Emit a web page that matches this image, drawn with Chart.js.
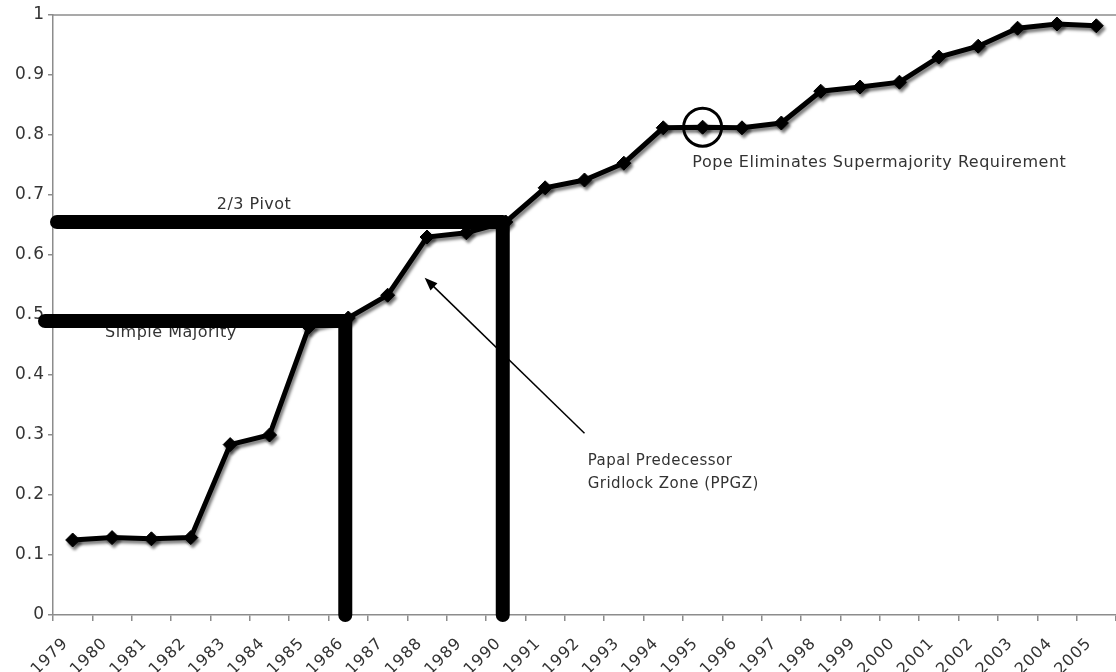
<!DOCTYPE html>
<html>
<head>
<meta charset="utf-8">
<script src="https://cdn.jsdelivr.net/npm/chart.js@4/dist/chart.umd.min.js"></script>
<style>
  html, body { margin: 0; padding: 0; background: #fff; }
  #wrap { width: 1116px; height: 672px; }
</style>
</head>
<body>
<div id="wrap"><canvas id="chart"></canvas></div>
<script>
// datos
const years = ['1979', '1980', '1981', '1982', '1983', '1984', '1985', '1986', '1987',
  '1988', '1989', '1990', '1991', '1992', '1993', '1994', '1995', '1996', '1997',
  '1998', '1999', '2000', '2001', '2002', '2003', '2004', '2005'];
const shares = [0.125, 0.129, 0.127, 0.129, 0.284, 0.300, 0.480, 0.495, 0.533,
  0.630, 0.637, 0.655, 0.712, 0.725, 0.753, 0.812, 0.813, 0.812, 0.820,
  0.873, 0.880, 0.888, 0.930, 0.948, 0.978, 0.985, 0.982];
const yTicks = [0, 0.1, 0.2, 0.3, 0.4, 0.5, 0.6, 0.7, 0.8, 0.9, 1];

const thresholdNames = ['Simple Majority', '2/3 Pivot'];
const thresholdValues = [0.49, 0.655];
const thresholdYears = ['1986', '1990'];

const eventYear = '1995';
const eventNote = 'Pope Eliminates Supermajority Requirement';
const zoneNote = ['Papal Predecessor', 'Gridlock Zone (PPGZ)'];

const FONT = 'DejaVu Sans, Verdana, sans-serif';
const TEXT = '#333';

// sombra gris bajo la serie
const shadowPlugin = {
  id: 'shadow',
  beforeDraw(chart) {
    chart.ctx.letterSpacing = '1px';
  },
  beforeDatasetDraw(chart) {
    const ctx = chart.ctx;
    ctx.save();
    ctx.shadowColor = 'rgba(0,0,0,0.5)';
    ctx.shadowOffsetX = 2;
    ctx.shadowOffsetY = 3;
    ctx.shadowBlur = 3;
  },
  afterDatasetDraw(chart) {
    chart.ctx.restore();
  }
};

// anotaciones: barras de umbral, flecha, circulo y textos
const notesPlugin = {
  id: 'notes',
  beforeDatasetsDraw(chart) {
    const { ctx, chartArea, scales: { x, y } } = chart;
    // borde superior del area
    ctx.save();
    ctx.strokeStyle = '#8c8c8c';
    ctx.lineWidth = 1.5;
    ctx.beginPath();
    ctx.moveTo(chartArea.left, chartArea.top);
    ctx.lineTo(chartArea.right, chartArea.top);
    ctx.stroke();

    ctx.fillStyle = TEXT;
    ctx.letterSpacing = '0.5px';
    ctx.font = '16px ' + FONT;
    ctx.textBaseline = 'middle';
    ctx.textAlign = 'left';
    ctx.fillText(thresholdNames[1], x.getPixelForValue(3.66), y.getPixelForValue(0.683));
    ctx.fillText(thresholdNames[0], x.getPixelForValue(0.82), y.getPixelForValue(0.47));
    ctx.fillText(eventNote, x.getPixelForValue(15.74), y.getPixelForValue(0.753));
    ctx.font = '15px ' + FONT;
    ctx.fillText(zoneNote[0], x.getPixelForValue(13.08), y.getPixelForValue(0.257));
    ctx.fillText(zoneNote[1], x.getPixelForValue(13.08), y.getPixelForValue(0.218));
    ctx.restore();
  },
  afterDatasetsDraw(chart) {
    const { ctx, chartArea, scales: { x, y } } = chart;
    ctx.save();
    ctx.strokeStyle = '#000';
    ctx.lineWidth = 14;
    ctx.lineCap = 'round';
    const leftStart = [chartArea.left - 8, chartArea.left + 4];
    thresholdValues.forEach((v, i) => {
      const px = x.getPixelForValue(years.indexOf(thresholdYears[i])) - 3;
      const py = y.getPixelForValue(v);
      ctx.beginPath();
      ctx.moveTo(leftStart[i], py);
      ctx.lineTo(px, py);
      ctx.moveTo(px, py);
      ctx.lineTo(px, y.getPixelForValue(0));
      ctx.stroke();
    });

    // flecha hacia la zona
    const tx = x.getPixelForValue(13.0), ty = y.getPixelForValue(0.303);
    const hx = x.getPixelForValue(8.94), hy = y.getPixelForValue(0.562);
    const ang = Math.atan2(hy - ty, hx - tx);
    ctx.lineWidth = 1.5;
    ctx.lineCap = 'butt';
    ctx.beginPath();
    ctx.moveTo(tx, ty);
    ctx.lineTo(hx - 8 * Math.cos(ang), hy - 8 * Math.sin(ang));
    ctx.stroke();
    ctx.fillStyle = '#000';
    ctx.beginPath();
    ctx.moveTo(hx, hy);
    ctx.lineTo(hx - 13 * Math.cos(ang) + 5 * Math.sin(ang), hy - 13 * Math.sin(ang) - 5 * Math.cos(ang));
    ctx.lineTo(hx - 13 * Math.cos(ang) - 5 * Math.sin(ang), hy - 13 * Math.sin(ang) + 5 * Math.cos(ang));
    ctx.closePath();
    ctx.fill();

    // circulo del evento
    const ei = years.indexOf(eventYear);
    ctx.lineWidth = 3;
    ctx.beginPath();
    ctx.arc(x.getPixelForValue(ei), y.getPixelForValue(shares[ei]), 19, 0, Math.PI * 2);
    ctx.stroke();
    ctx.restore();
  }
};

const chart = new Chart(document.getElementById('chart'), {
  type: 'line',
  data: {
    labels: years,
    datasets: [{
      data: shares,
      borderColor: '#000',
      borderWidth: 5,
      tension: 0,
      pointStyle: 'rectRot',
      pointRadius: 7,
      pointBackgroundColor: '#000',
      pointBorderColor: '#000',
      pointBorderWidth: 1
    }]
  },
  options: {
    responsive: true,
    maintainAspectRatio: false,
    animation: false,
    layout: { autoPadding: false, padding: { top: 15, right: 0, left: 0, bottom: 0 } },
    plugins: {
      legend: { display: false },
      tooltip: { enabled: false }
    },
    scales: {
      x: {
        offset: true,
        grid: { offset: true, drawOnChartArea: false, drawTicks: true, tickLength: 6, color: '#8c8c8c', lineWidth: 1.5 },
        border: { color: '#8c8c8c', width: 1.5 },
        ticks: {
          autoSkip: false,
          maxRotation: 45,
          minRotation: 45,
          padding: 13,
          labelOffset: -7,
          color: TEXT,
          font: { family: FONT, size: 16 }
        },
        afterFit(scale) {
          scale.height = 57;
          scale.paddingLeft = 0;
          scale.paddingRight = 0;
        }
      },
      y: {
        min: 0,
        max: 1,
        afterBuildTicks(scale) {
          scale.ticks = yTicks.map(v => ({ value: v }));
        },
        grid: { drawOnChartArea: false, drawTicks: true, tickLength: 5, color: '#8c8c8c', lineWidth: 1.5 },
        border: { color: '#8c8c8c', width: 1.5 },
        ticks: {
          padding: 3,
          color: TEXT,
          font: { family: FONT, size: 17 },
          callback: v => String(Math.round(v * 10) / 10)
        },
        afterFit(scale) {
          scale.width = 53;
          scale.paddingTop = 0;
          scale.paddingBottom = 0;
        }
      }
    }
  },
  plugins: [shadowPlugin, notesPlugin]
});
</script>
</body>
</html>
